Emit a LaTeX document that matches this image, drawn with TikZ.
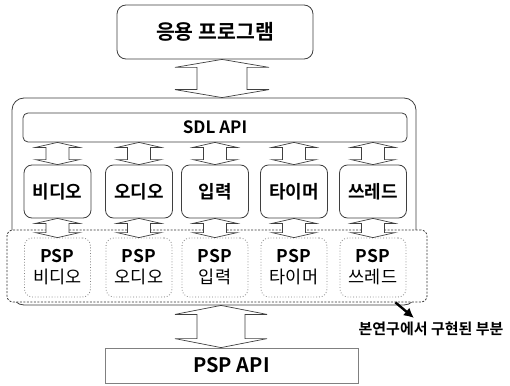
\documentclass[tikz,border=0pt]{standalone}
\usepackage[svgnames]{xcolor}
\usepackage{fontspec}
\setmainfont{Noto Sans CJK KR}[BoldFont={* Bold}]
\usetikzlibrary{calc, arrows.meta}

% two-headed block arrow: from, to, head half width, shaft half width, head length
\newcommand{\dblarrow}[5]{%
  \draw[blockarrow] let \p1=(#1), \p2=(#2) in
    (\x1,\y1) -- ({\x1+#3pt},{\y1-#5pt}) -- ({\x1+#4pt},{\y1-#5pt})
    -- ({\x1+#4pt},{\y2+#5pt}) -- ({\x1+#3pt},{\y2+#5pt}) -- (\x1,\y2)
    -- ({\x1-#3pt},{\y2+#5pt}) -- ({\x1-#4pt},{\y2+#5pt})
    -- ({\x1-#4pt},{\y1-#5pt}) -- ({\x1-#3pt},{\y1-#5pt}) -- cycle;}

\tikzset{
  layer/.style={draw=DimGray!60!black, line width=0.8pt, inner sep=0pt, font=\bfseries\fontsize{18}{18}\selectfont},
  modbox/.style={layer, rounded corners=8pt, minimum width=67pt, minimum height=53pt},
  pspbox/.style={layer, dotted, draw=Gray, rounded corners=8pt, minimum width=66pt, minimum height=59pt, align=center, font=\fontsize{17.5}{21}\selectfont},
  blockarrow/.style={draw=DimGray!60!black, line width=0.7pt, fill=white, line join=miter}
}

\begin{document}
\begin{tikzpicture}[x=1pt, y=-1pt]
\useasboundingbox (0,0) rectangle (510,385);
\node[layer, rounded corners=9pt, minimum width=196pt, minimum height=54pt, font=\bfseries\fontsize{20.5}{20}\selectfont] (app) at (215,32) {응용 프로그램};
\node[layer, rounded corners=12pt, minimum width=404pt, minimum height=207pt] (outer) at (214,201.5) {};
\node[layer, rounded corners=5pt, minimum width=384pt, minimum height=29pt, font=\bfseries\fontsize{17}{17}\selectfont] (sdl) at (215,127.5) {SDL API};
% modules and their PSP parts
\node[layer, fill=white, draw=black!80, dash pattern=on 2pt off 1.5pt, rounded corners=6pt, minimum width=420pt, minimum height=72pt] (zone) at (217,266) {};
\foreach \name/\txt/\x in {vid/비디오/57.5, aud/오디오/139, inp/입력/215, tim/타이머/294, thr/쓰레드/373} {
  \node[modbox] (m\name) at (\x,191.5) {\txt};
  \node[pspbox] (p\name) at (\x,267.5) {\textbf{PSP}\\\txt};
  \dblarrow{m\name.north |- sdl.south}{m\name.north}{22}{11.5}{5}
  \dblarrow{m\name.south}{p\name.north}{22}{11.5}{5}
}
\node[layer, draw=Gray, minimum width=253pt, minimum height=35pt, font=\bfseries\fontsize{20}{20}\selectfont] (api) at (231.5,365.5) {PSP API};
\dblarrow{$(app.south)+(7,0)$}{outer.north}{47}{25}{8}
\dblarrow{$(outer.south)+(7,0)$}{api.north}{46}{24}{9}
% implemented part
\node[font=\bfseries\fontsize{15}{15}\selectfont] (impl) at (431,329) {본연구에서 구현된 부분};
\coordinate (tip) at ($(impl)+(-17,-11)$);
\draw[-{Latex[length=10pt,width=10pt]}, line width=2.4pt] ($(zone.south east)+(-32,0)$) -- (tip);
\end{tikzpicture}
\end{document}
